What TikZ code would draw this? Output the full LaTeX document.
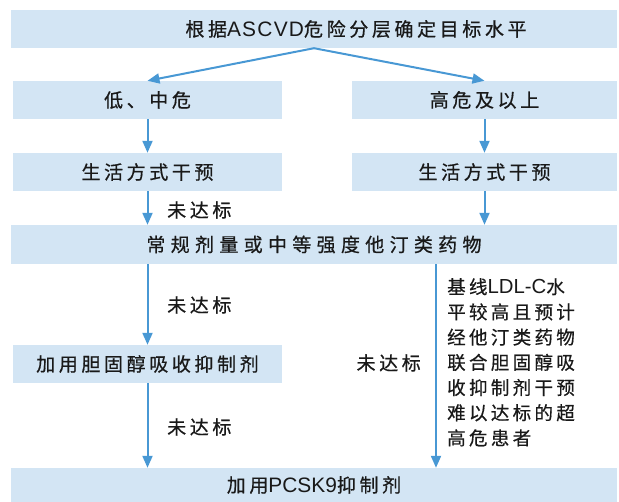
\documentclass[tikz,border=0pt]{standalone}
\usepackage{fontspec}
\setmainfont{Noto Sans CJK SC}[LetterSpace=19, FakeBold=0.6]
\newfontfamily\latnfont{Liberation Sans}[Scale=1.1]
\newcommand{\latn}[1]{{\latnfont #1}}
\usetikzlibrary{arrows.meta}

\definecolor{boxblue}{RGB}{211,229,244}
\definecolor{lineblue}{RGB}{72,152,212}
\definecolor{txtgray}{RGB}{25,25,25}

\begin{document}
\begin{tikzpicture}[x=1pt, y=-1pt,
    box/.style={fill=boxblue, inner sep=0pt, minimum height=38pt, text=txtgray,
      font=\fontsize{19}{22}\selectfont},
    boxtext/.style={inner sep=0pt, text=txtgray, font=\fontsize{19}{22}\selectfont},
    note/.style={inner sep=0pt, text=txtgray, font=\fontsize{19}{25.2}\selectfont},
    flow/.style={draw=lineblue, line width=2pt, -{Triangle[width=10pt,length=12pt]}}]
    \useasboundingbox (0,0) rectangle (619,502);

    % boxes
    \node[box, minimum width=606pt] (goal) at (314,29) {};
    \node[boxtext] (goaltext) at (356,29) {根据\latn{\addfontfeature{LetterSpace=6}ASCVD}危险分层确定目标水平};
    \node[box, minimum width=269pt] (low) at (147.5,100) {低、中危};
    \node[box, minimum width=265pt] (high) at (484.5,100) {高危及以上};
    \node[box, minimum width=269pt] (lifeL) at (147.5,172) {生活方式干预};
    \node[box, minimum width=265pt] (lifeR) at (484.5,172) {生活方式干预};
    \node[box, minimum width=606pt, minimum height=39pt] (statin) at (314,244.5)
      {\addfontfeature{LetterSpace=28}常规剂量或中等强度他汀类药物};
    \node[box, minimum width=269pt] (ezet) at (147.5,364) {加用胆固醇吸收抑制剂};
    \node[box, minimum width=606pt, minimum height=34pt] (pcsk) at (314,485) {加用\latn{PCSK9}抑制剂};
    \coordinate (rx) at (436,0);

    % arrows
    \draw[flow] (goal.south) -- (low.north);
    \draw[flow] (goal.south) -- (high.north);
    \draw[flow] (low.south) -- (lifeL.north);
    \draw[flow] (high.south) -- (lifeR.north);
    \draw[flow] (lifeL.south) -- (lifeL.south |- statin.north);
    \draw[flow] (lifeR.south) -- (lifeR.south |- statin.north);
    \draw[flow] (ezet.north |- statin.south) -- (ezet.north);
    \draw[flow] (ezet.south) -- (ezet.south |- pcsk.north);
    \draw[flow] (rx |- statin.south) -- (rx |- pcsk.north);

    % labels
    \node[note, anchor=west] (miss1) at (167,210) {未达标};
    \node[note, anchor=west] (miss2) at (167,305) {未达标};
    \node[note, anchor=west] (miss3) at (167,427) {未达标};
    \node[note, anchor=east] (miss4) at (421,363) {未达标};
    \node[note, anchor=north west, align=left, font=\fontsize{18.5}{25.2}\selectfont\addfontfeature{LetterSpace=18}] (hard) at (447,278)
      {基线\latn{LDL-C}水\\平较高且预计\\经他汀类药物\\联合胆固醇吸\\收抑制剂干预\\难以达标的超\\高危患者};
\end{tikzpicture}
\end{document}
